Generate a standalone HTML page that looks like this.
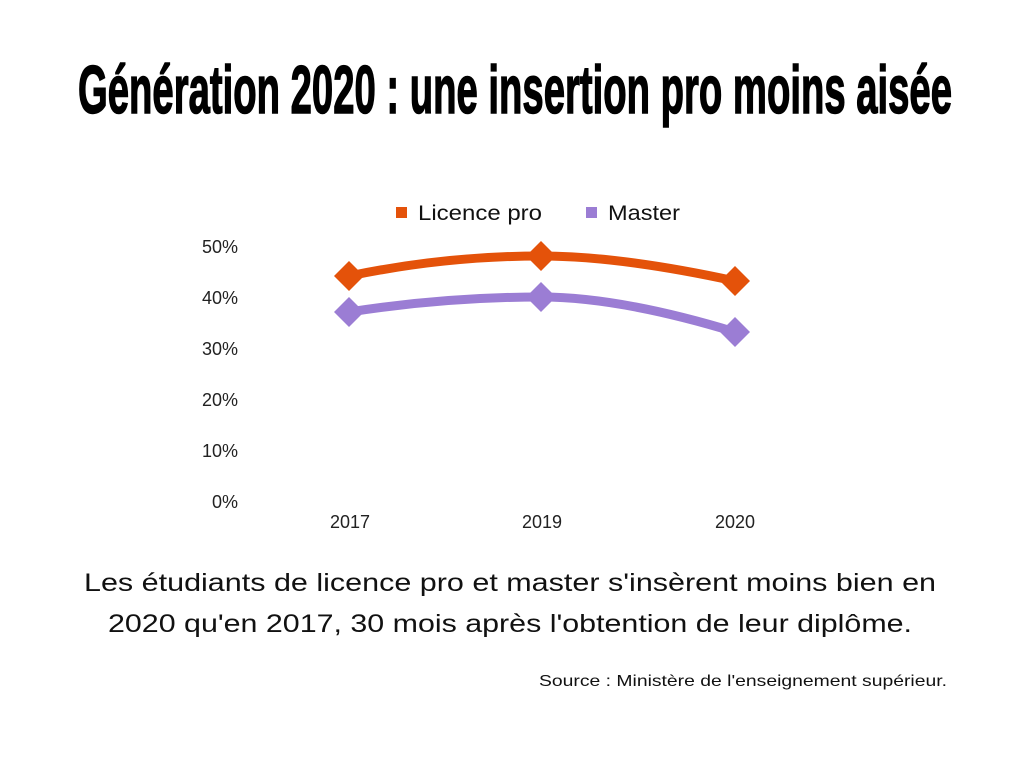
<!DOCTYPE html>
<html><head><meta charset="utf-8"><style>html,body{margin:0;padding:0;background:#fff}svg{display:block}</style></head>
<body>
<svg width="1024" height="768" xmlns="http://www.w3.org/2000/svg" font-family="Liberation Sans, sans-serif">
<rect width="1024" height="768" fill="#fff"/>
<text x="515" y="113" font-size="68" font-weight="bold" text-anchor="middle" textLength="874" lengthAdjust="spacingAndGlyphs" fill="#000" stroke="#000" stroke-width="1.5">Génération 2020 : une insertion pro moins aisée</text>
<rect x="396" y="207" width="11" height="11" fill="#e4520a"/>
<text x="418" y="220" font-size="21" fill="#111" textLength="124" lengthAdjust="spacingAndGlyphs">Licence pro</text>
<rect x="586" y="207" width="11" height="11" fill="#9b7dd4"/>
<text x="608" y="220" font-size="21" fill="#111" textLength="72" lengthAdjust="spacingAndGlyphs">Master</text>
<g font-size="18" fill="#222" text-anchor="end">
<text x="238" y="253">50%</text><text x="238" y="304">40%</text><text x="238" y="355">30%</text>
<text x="238" y="406">20%</text><text x="238" y="457">10%</text><text x="238" y="508">0%</text>
</g>
<g font-size="18" fill="#222" text-anchor="middle">
<text x="350" y="528">2017</text><text x="542" y="528">2019</text><text x="735" y="528">2020</text>
</g>
<path d="M349,276 Q445,256 541,256 Q620,256 735,281" fill="none" stroke="#e4520a" stroke-width="9"/>
<path d="M349,312 Q445,297 541,297 Q620,297 735,332" fill="none" stroke="#9b7dd4" stroke-width="9"/>
<g fill="#e4520a">
<path d="M349,261 l15,15 l-15,15 l-15,-15z"/><path d="M541,241 l15,15 l-15,15 l-15,-15z"/><path d="M735,266 l15,15 l-15,15 l-15,-15z"/>
</g>
<g fill="#9b7dd4">
<path d="M349,297 l15,15 l-15,15 l-15,-15z"/><path d="M541,282 l15,15 l-15,15 l-15,-15z"/><path d="M735,317 l15,15 l-15,15 l-15,-15z"/>
</g>
<g font-size="25" fill="#111" text-anchor="middle">
<text x="510" y="591" textLength="852" lengthAdjust="spacingAndGlyphs">Les étudiants de licence pro et master s'insèrent moins bien en</text>
<text x="510" y="632" textLength="804" lengthAdjust="spacingAndGlyphs">2020 qu'en 2017, 30 mois après l'obtention de leur diplôme.</text>
</g>
<text x="947" y="686" font-size="16" fill="#111" text-anchor="end" textLength="408" lengthAdjust="spacingAndGlyphs">Source : Ministère de l'enseignement supérieur.</text>
</svg>
</body></html>
